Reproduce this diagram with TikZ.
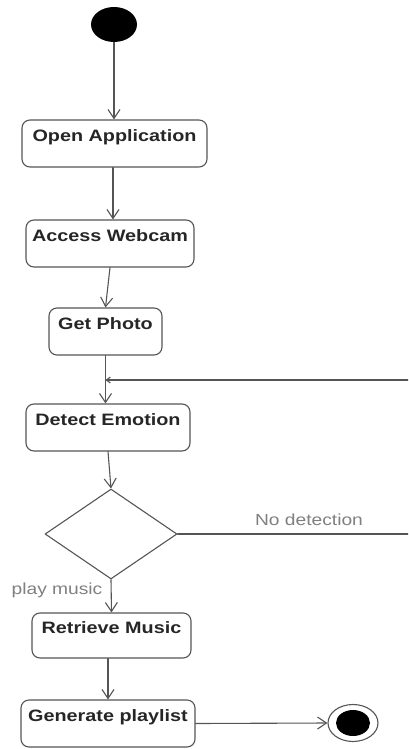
\documentclass[tikz,border=0pt]{standalone}
\usepackage{fontspec}
\setmainfont{Liberation Sans}
\usetikzlibrary{arrows.meta,shapes.geometric}
\definecolor{linegray}{RGB}{85,85,85}

\newcommand{\wtext}[1]{\scalebox{1.2}[1]{#1}}

\tikzset{
  activity/.style={draw=linegray, line width=1.1pt, rounded corners=8pt, inner sep=0pt,
    text height=12pt, text depth=17pt, font=\fontsize{16.5}{18}\selectfont\bfseries, text=black!85},
  flow/.style={draw=linegray, line width=1.1pt, -{Straight Barb[length=9pt,width=12pt]}},
  guard/.style={text=gray, font=\fontsize{16}{18}\selectfont},
}

\begin{document}
\begin{tikzpicture}[x=1pt,y=-1pt,line cap=round,line join=round]
      \useasboundingbox (0,0) rectangle (408,749);
      \clip (0,0) rectangle (408,749);

      % Start and end
      \node[ellipse, fill=black, inner sep=0pt, minimum width=46pt, minimum height=35pt] (start) at (114,24.5) {};
      \node[ellipse, draw=linegray, line width=1.1pt, fill=white, inner sep=0pt, minimum width=50pt, minimum height=37pt] (stop) at (353,723) {};
      \node[ellipse, fill=black, inner sep=0pt, minimum width=34pt, minimum height=26pt] (stopdot) at (stop) {};

      % Activities
      \node[activity, minimum width=185pt, minimum height=47pt] (open) at (114.5,143.5) {\wtext{Open Application}};
      \node[activity, minimum width=168pt, minimum height=47pt] (webcam) at (110,243.5) {\wtext{Access Webcam}};
      \node[activity, minimum width=113pt, minimum height=47pt] (photo) at (105.5,331.5) {\wtext{Get Photo}};
      \node[activity, minimum width=164pt, minimum height=47pt] (detect) at (108,427.5) {\wtext{Detect Emotion}};
      \node[activity, minimum width=159pt, minimum height=45pt] (music) at (111.5,635.5) {\wtext{Retrieve Music}};
      \node[activity, minimum width=174pt, minimum height=47pt] (playlist) at (108,723.5) {\wtext{Generate playlist}};

      % Decision
      \node[diamond, draw=linegray, line width=1.1pt, inner sep=0pt, aspect=1.47,
            minimum width=132pt, minimum height=90pt] (choice) at (111,534) {};

      % Guards
      \node[guard] (nodet) at (309,520) {\wtext{No detection}};
      \node[guard] (play) at (57,590) {\wtext{play music}};

      % Flows
      \draw[flow] (start) -- (start |- open.north);
      \draw[flow] (open.south -| 113,0) -- (webcam.north -| 113,0);
      \draw[flow] (webcam.south) -- (photo.north);
      \draw[flow] (photo.south) -- (photo.south |- detect.north);
      \draw[flow] (detect.south) -- (choice.north);
      \draw[flow] (choice.south) -- (music.north);
      \draw[flow] (playlist.north |- music.south) -- (playlist.north);
      \draw[flow] (playlist.east) -- (stop.west);

      % Loop back when nothing is detected
      \coordinate (merge) at (photo.south |- 0,380);
      \draw[draw=linegray, line width=1.1pt, -{Straight Barb[length=4pt,width=6pt]}]
        (choice.east) -- (choice.east -| 416,0) |- (merge);
\end{tikzpicture}
\end{document}
